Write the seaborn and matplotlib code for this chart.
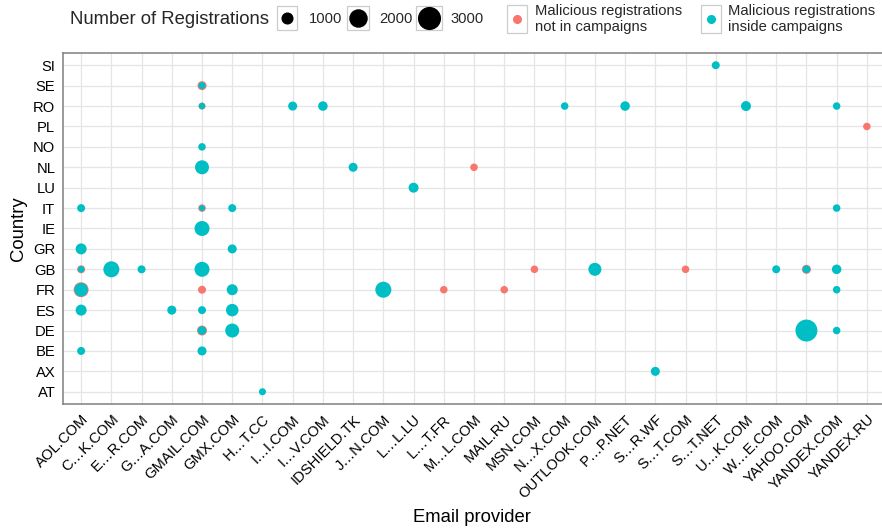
import numpy as np
import pandas as pd
import matplotlib
matplotlib.use("Agg")
import matplotlib.pyplot as plt
import seaborn as sns
from matplotlib.lines import Line2D
from matplotlib.patches import Rectangle

# -----------------------------
# Data
# -----------------------------
providers = ["AOL.COM", "C\u2026K.COM", "E\u2026R.COM", "G\u2026A.COM", "GMAIL.COM",
             "GMX.COM", "H\u2026T.CC", "I\u2026I.COM", "I\u2026V.COM", "IDSHIELD.TK",
             "J\u2026N.COM", "L\u2026L.LU", "L\u2026T.FR", "M\u2026L.COM", "MAIL.RU",
             "MSN.COM", "N\u2026X.COM", "OUTLOOK.COM", "P\u2026P.NET", "S\u2026R.WF",
             "S\u2026T.COM", "S\u2026T.NET", "U\u2026K.COM", "W\u2026E.COM", "YAHOO.COM",
             "YANDEX.COM", "YANDEX.RU"]
countries = ["AT", "AX", "BE", "DE", "ES", "FR", "GB", "GR", "IE", "IT",
             "LU", "NL", "NO", "PL", "RO", "SE", "SI"]

# malicious registrations not in campaigns
red_provider = ["AOL.COM", "AOL.COM", "GMAIL.COM", "GMAIL.COM", "GMAIL.COM",
                "GMAIL.COM", "GMAIL.COM", "L\u2026T.FR", "M\u2026L.COM", "MAIL.RU",
                "MSN.COM", "S\u2026T.COM", "YAHOO.COM", "YANDEX.RU"]
red_country = ["GB", "FR", "SE", "RO", "IT", "FR", "DE", "FR", "NL", "FR",
               "GB", "GB", "GB", "PL"]
red_count = [720, 1620, 820, 640, 680, 720, 920, 680, 680, 680,
             680, 680, 820, 680]

# malicious registrations inside campaigns
cyan_provider = ["AOL.COM", "AOL.COM", "AOL.COM", "AOL.COM", "AOL.COM", "AOL.COM",
                 "C\u2026K.COM", "E\u2026R.COM", "G\u2026A.COM",
                 "GMAIL.COM", "GMAIL.COM", "GMAIL.COM", "GMAIL.COM", "GMAIL.COM",
                 "GMAIL.COM", "GMAIL.COM", "GMAIL.COM", "GMAIL.COM", "GMAIL.COM",
                 "GMX.COM", "GMX.COM", "GMX.COM", "GMX.COM", "GMX.COM",
                 "H\u2026T.CC", "I\u2026I.COM", "I\u2026V.COM", "IDSHIELD.TK",
                 "J\u2026N.COM", "L\u2026L.LU", "N\u2026X.COM", "OUTLOOK.COM",
                 "P\u2026P.NET", "S\u2026R.WF", "S\u2026T.NET", "U\u2026K.COM",
                 "W\u2026E.COM", "YAHOO.COM", "YAHOO.COM",
                 "YANDEX.COM", "YANDEX.COM", "YANDEX.COM", "YANDEX.COM", "YANDEX.COM"]
cyan_country = ["IT", "GR", "GB", "FR", "ES", "BE",
                "GB", "GB", "ES",
                "SE", "RO", "NO", "NL", "IT", "IE", "GB", "ES", "DE", "BE",
                "IT", "GR", "FR", "ES", "DE",
                "AT", "RO", "RO", "NL",
                "FR", "LU", "RO", "GB",
                "RO", "AX", "SI", "RO",
                "GB", "GB", "DE",
                "RO", "IT", "GB", "FR", "DE"]
cyan_count = [720, 1040, 600, 1380, 1040, 720,
              1800, 720, 820,
              640, 600, 680, 1460, 560, 1620, 1620, 720, 770, 820,
              720, 820, 1040, 1240, 1460,
              640, 820, 870, 820,
              1800, 920, 680, 1310,
              870, 820, 720, 920,
              720, 680, 3070,
              680, 680, 870, 680, 680]

legend_counts = [1000, 2000, 3000]
type_labels = ["Malicious registrations\nnot in campaigns",
               "Malicious registrations\ninside campaigns"]
palette = ["#F8766D", "#00BFC4"]

# -----------------------------
# Table (red first so cyan sits on top)
# -----------------------------
df = pd.concat([
    pd.DataFrame({"provider": red_provider, "country": red_country,
                  "count": red_count, "type": type_labels[0]}),
    pd.DataFrame({"provider": cyan_provider, "country": cyan_country,
                  "count": cyan_count, "type": type_labels[1]}),
], ignore_index=True)
df["x"] = df["provider"].map(providers.index)
df["y"] = df["country"].map(countries.index)

# size scale (marker area in pt^2, linear in count)
size_norm = (400, 3200)
size_range = (3.6, 262.0)


def marker_area(v):
    t = (v - size_norm[0]) / (size_norm[1] - size_norm[0])
    return size_range[0] + t * (size_range[1] - size_range[0])


# -----------------------------
# Style
# -----------------------------
sns.set_theme(style="white")
plt.rcParams["font.family"] = ["Liberation Sans", "DejaVu Sans"]

W, H = 882, 531
fig = plt.figure(figsize=(W / 100, H / 100), dpi=100)
ax = fig.add_axes([63 / W, 1 - 404 / H, 822 / W, 351 / H])

sns.scatterplot(
    data=df, x="x", y="y", hue="type", hue_order=type_labels,
    palette=palette, size="count", sizes=size_range, size_norm=size_norm,
    linewidth=0, alpha=1, legend=False, ax=ax, zorder=3,
)

ax.set_xlim(-0.6, len(providers) - 0.4)
ax.set_ylim(-0.6, len(countries) - 0.4)
ax.set_xticks(range(len(providers)))
ax.set_xticklabels(providers, rotation=45, ha="right", va="top",
                   rotation_mode="anchor", fontsize=10.6, color="black")
ax.set_yticks(range(len(countries)))
ax.set_yticklabels(countries, fontsize=10.6, color="black")
ax.tick_params(axis="both", length=3, width=0.8, color="#333333", pad=2.5)
ax.tick_params(axis="x", pad=3)

ax.grid(True, color="#E5E5E5", linewidth=0.9)
ax.set_axisbelow(True)
for s in ax.spines.values():
    s.set_color("#7F7F7F")
    s.set_linewidth(1.1)

ax.set_xlabel("Email provider", fontsize=13.3, color="black")
ax.set_ylabel("Country", fontsize=13.3, color="black")
ax.xaxis.set_label_coords((472 - 63) / 822, (404 - 517) / 351)
ax.xaxis.label.set_va("center")
ax.yaxis.set_label_coords((19 - 63) / 822, 0.5)
ax.yaxis.label.set_va("center")

# -----------------------------
# Legends (top)
# -----------------------------
ly = 1 - 19 / H
fig.text(70 / W, ly, "Number of Registrations", fontsize=13.3,
         va="center", ha="left")
size_handles = [Line2D([], [], ls="", marker="o", color="black",
                       markersize=np.sqrt(marker_area(v)))
                for v in legend_counts]
leg1 = fig.legend(size_handles, [str(v) for v in legend_counts], ncol=3,
                  loc="center left", bbox_to_anchor=(276 / W, ly),
                  frameon=False, fontsize=10.6, handlelength=1.5,
                  handletextpad=0.7, columnspacing=0.35, borderpad=0,
                  borderaxespad=0)
hue_handles = [Line2D([], [], ls="", marker="o", color=c, markersize=5.5)
               for c in palette]
leg2 = fig.legend(hue_handles, type_labels, ncol=2, loc="center left",
                  bbox_to_anchor=(507 / W, ly), frameon=False, fontsize=10.6,
                  handlelength=1.4, handletextpad=0.5, columnspacing=1.25,
                  borderpad=0, borderaxespad=0, labelspacing=0)

# grey key boxes like the reference
fig.canvas.draw()
renderer = fig.canvas.get_renderer()
for leg, bh in ((leg1, 24), (leg2, 28)):
    for h in leg.legend_handles:
        bb = h.get_window_extent(renderer)
        cx, cy = (bb.x0 + bb.x1) / 2, (bb.y0 + bb.y1) / 2
        d = h.get_markersize() * 100 / 72
        bw = max(20, d + 5)
        fig.add_artist(Rectangle(((cx - bw / 2) / W, (cy - bh / 2) / H),
                                 bw / W, bh / H, transform=fig.transFigure,
                                 facecolor="none", edgecolor="#CCCCCC",
                                 linewidth=0.9))

fig.savefig("out.png", dpi=100)
